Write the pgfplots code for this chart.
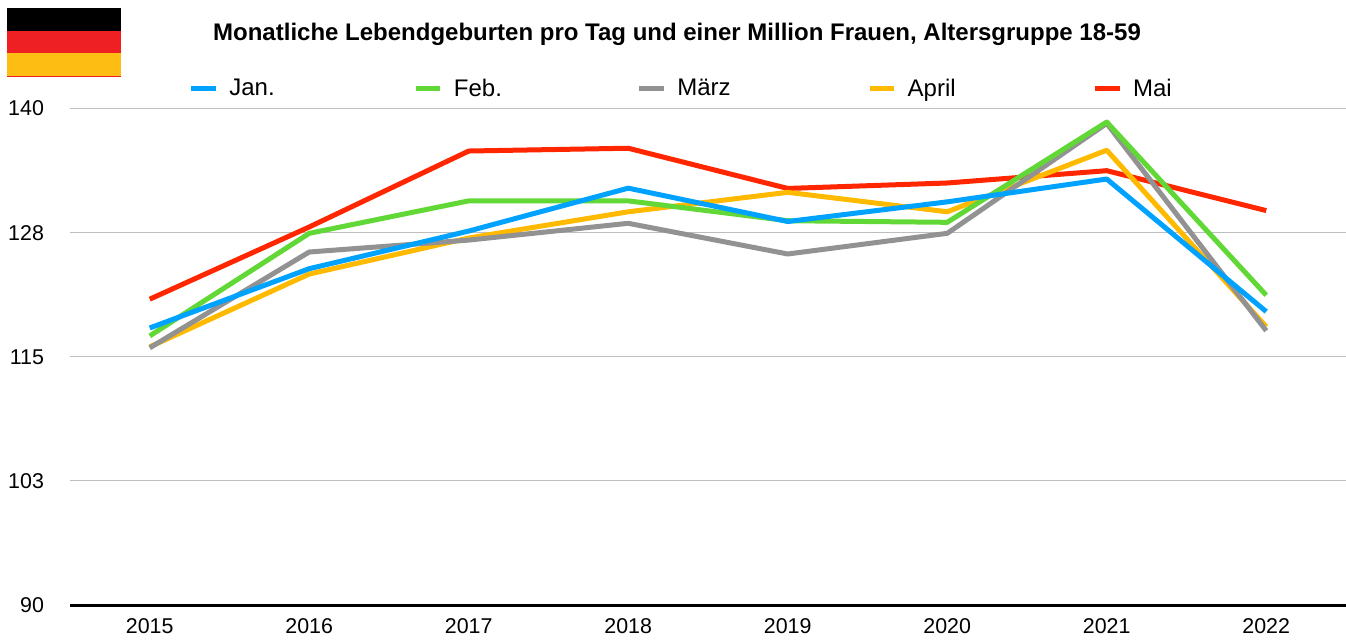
\documentclass[border=0pt]{standalone}
\usepackage{pgfplots}
\pgfplotsset{compat=1.18}
\usepackage{fontspec}
\setmainfont{Liberation Sans}
\definecolor{cjan}{HTML}{00A2FF}
\definecolor{cfeb}{HTML}{61D836}
\definecolor{cmar}{HTML}{929292}
\definecolor{capr}{HTML}{FFBA00}
\definecolor{cmai}{HTML}{FF2600}
\definecolor{flagred}{HTML}{EE2024}
\definecolor{flaggold}{HTML}{FDBD12}
\definecolor{gridc}{HTML}{BDBDBD}
\newcommand{\lw}{2.5pt}
\newcommand{\lent}[2]{\makebox[#1][l]{\hspace*{3.5pt}#2}}
\begin{document}
\begin{tikzpicture}
\begin{scope}[x=0.5pt,y=-0.5pt]
\fill[black] (7,8) rectangle (121,31);
\fill[flagred] (7,31) rectangle (121,53);
\fill[flaggold] (7,53) rectangle (121,76);
\fill[flagred] (7,76) rectangle (121,77);
\node[font=\fontsize{12pt}{14pt}\selectfont\bfseries,anchor=center] at (677,34) {Monatliche Lebendgeburten pro Tag und einer Million Frauen, Altersgruppe 18-59};
\end{scope}
\begin{axis}[
  at={(35pt,-302.5pt)}, anchor=south west,
  scale only axis, width=638pt, height=248.25pt,
  xmin=-0.5, xmax=7.5, ymin=90, ymax=140,
  xtick={0,1,2,3,4,5,6,7},
  xticklabels={2015,2016,2017,2018,2019,2020,2021,2022},
  ytick={90,102.5,115,127.5,140},
  yticklabels={90,103,115,128,140},
  ymajorgrids, major grid style={gridc,line width=0.6pt},
  major tick length=0pt,
  axis x line*=bottom, axis y line*=left,
  x axis line style={black,line width=1.5pt,-},
  y axis line style={draw=none},
  tick label style={font=\fontsize{10.7pt}{12pt}\selectfont},
  y tick label style={anchor=east,xshift=-9.5pt},
  x tick label style={anchor=center,yshift=-10.5pt},
  clip=false,
  legend columns=5,
  legend style={at={(rel axis cs:0.0932,1.0395)},anchor=west,draw=none,fill=none,inner sep=0pt,outer sep=0pt,
    font=\fontsize{12pt}{14pt}\selectfont,
    /tikz/every even column/.append style={column sep=0pt}},
  legend cell align=left,
  legend image code/.code={\draw[#1,line width=\lw] (0pt,0pt) -- (12.2pt,0pt);},
  every axis plot/.append style={line width=\lw,line join=round,no markers},
]
\addlegendimage{cjan}\addlegendentry{\lent{93.6pt}{Jan.}}
\addlegendimage{cfeb}\addlegendentry{\lent{93pt}{Feb.}}
\addlegendimage{cmar}\addlegendentry{\lent{96.5pt}{März}}
\addlegendimage{capr}\addlegendentry{\lent{94pt}{April}}
\addlegendimage{cmai}\addlegendentry{\lent{30pt}{Mai}}
\addplot[cmai,forget plot] coordinates {(0,120.8)(1,128.07)(2,135.72)(3,136.0)(4,131.95)(5,132.5)(6,133.74)(7,129.72)};
\addplot[capr,forget plot] coordinates {(0,116.0)(1,123.33)(2,126.96)(3,129.6)(4,131.56)(5,129.6)(6,135.8)(7,118.03)};
\addplot[cmar,forget plot] coordinates {(0,115.9)(1,125.55)(2,126.75)(3,128.44)(4,125.35)(5,127.43)(6,138.5)(7,117.62)};
\addplot[cfeb,forget plot] coordinates {(0,117.1)(1,127.43)(2,130.7)(3,130.7)(4,128.7)(5,128.54)(6,138.64)(7,121.2)};
\addplot[cjan,forget plot] coordinates {(0,117.9)(1,123.87)(2,127.66)(3,131.98)(4,128.62)(5,130.6)(6,132.9)(7,119.55)};
\end{axis}
\pgfresetboundingbox
\path[use as bounding box] (0,0) rectangle (673pt,-319.5pt);
\end{tikzpicture}
\end{document}
